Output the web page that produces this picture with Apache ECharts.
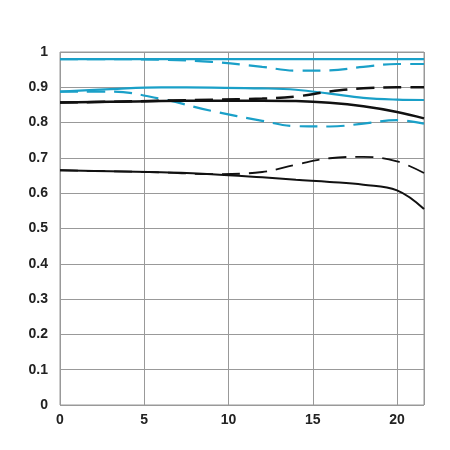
<!DOCTYPE html>
<html><head><meta charset="utf-8">
<script src="https://cdn.jsdelivr.net/npm/echarts@6/dist/echarts.min.js"></script>
<style>html,body{margin:0;padding:0;background:#fff}#c{width:450px;height:450px}</style>
</head><body><div id="c"></div>
<script>
const xTicks = [0, 5, 10, 15, 20];
const yTicks = [0, 0.1, 0.2, 0.3, 0.4, 0.5, 0.6, 0.7, 0.8, 0.9, 1];
const xs = [0, 3, 6, 9, 12, 14, 16, 18, 20, 21.6];
const cyanS1 = [0.98, 0.98, 0.98, 0.98, 0.98, 0.98, 0.98, 0.98, 0.98, 0.98];
const cyanD1 = [0.98, 0.98, 0.978, 0.972, 0.958, 0.947, 0.948, 0.958, 0.966, 0.966];
const cyanS2 = [0.888, 0.895, 0.9, 0.899, 0.897, 0.893, 0.882, 0.87, 0.865, 0.864];
const cyanD2 = [0.888, 0.888, 0.867, 0.833, 0.805, 0.79, 0.789, 0.797, 0.807, 0.797];
const blackS1 = [0.857, 0.859, 0.861, 0.862, 0.862, 0.861, 0.856, 0.846, 0.83, 0.812];
const blackD1 = [0.857, 0.859, 0.862, 0.865, 0.868, 0.874, 0.888, 0.897, 0.9, 0.9];
const blackS2 = [0.665, 0.662, 0.659, 0.654, 0.645, 0.638, 0.632, 0.624, 0.608, 0.555];
const blackD2 = [0.665, 0.662, 0.659, 0.654, 0.66, 0.681, 0.699, 0.703, 0.69, 0.657];

const CY = '#1aa0c8', BK = '#111';
function mk(vals, color, dashed, w) {
  return {
    type: 'line', smooth: 0.4, symbol: 'none',
    data: xs.map((x, i) => [x, vals[i]]),
    lineStyle: { color: color, width: w, type: dashed ? [18, 9] : 'solid' }
  };
}
const chart = echarts.init(document.getElementById('c'));
chart.setOption({
  animation: false,
  grid: { left: 60, right: 26, top: 52, bottom: 45, show: true, borderColor: '#999', borderWidth: 1 },
  xAxis: {
    type: 'value', min: 0, max: 21.6, interval: 5,
    axisLine: { show: false }, axisTick: { show: false },
    splitLine: { show: true, lineStyle: { color: '#999', width: 1 } },
    axisLabel: { color: '#222', fontFamily: 'Liberation Sans', fontWeight: 'bold', fontSize: 14, margin: 8,
      showMaxLabel: false, formatter: v => xTicks.includes(v) ? String(v) : '' }
  },
  yAxis: {
    type: 'value', min: 0, max: 1, interval: 0.1,
    axisLine: { show: false }, axisTick: { show: false },
    splitLine: { show: true, lineStyle: { color: '#999', width: 1 } },
    axisLabel: { color: '#222', fontFamily: 'Liberation Sans', fontWeight: 'bold', fontSize: 14, margin: 12,
      formatter: v => { const t = yTicks.find(y => Math.abs(y - v) < 1e-6); return t === undefined ? '' : String(t); } }
  },
  series: [
    mk(cyanS1, CY, false, 2.2),
    mk(cyanD1, CY, true, 2.2),
    mk(cyanS2, CY, false, 2.2),
    mk(cyanD2, CY, true, 2.2),
    mk(blackS2, BK, false, 2),
    mk(blackD2, BK, true, 1.8),
    mk(blackS1, BK, false, 2.5),
    mk(blackD1, BK, true, 2.5)
  ]
});
</script></body></html>
